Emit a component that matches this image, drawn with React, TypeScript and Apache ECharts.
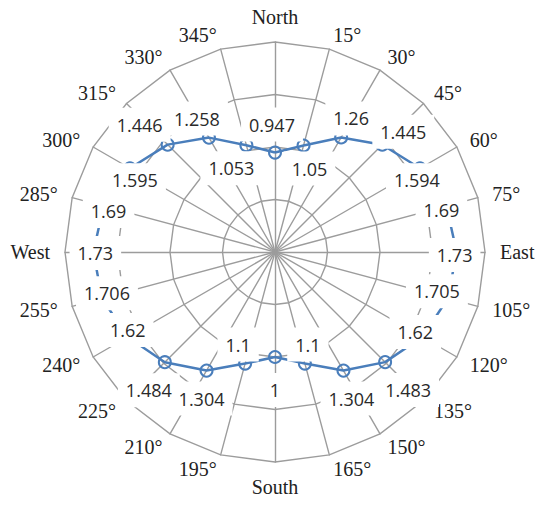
import React, { useEffect, useRef } from 'react';
import * as echarts from 'echarts';

// Category labels, clockwise from North (every 15 degrees)
const DIRECTIONS = [
  'North', '15°', '30°', '45°', '60°', '75°', 'East', '105°', '120°', '135°', '150°', '165°',
  'South', '195°', '210°', '225°', '240°', '255°', 'West', '285°', '300°', '315°', '330°', '345°',
];
const ANGLES = [0, 15, 30, 45, 60, 75, 90, 105, 120, 135, 150, 165, 180, 195, 210, 225, 240, 255, 270, 285, 300, 315, 330, 345];
const VALUES = [
  0.947, 1.05, 1.26, 1.445, 1.594, 1.69, 1.73, 1.705, 1.62, 1.483, 1.304, 1.1,
  1, 1.1, 1.304, 1.484, 1.62, 1.706, 1.73, 1.69, 1.595, 1.446, 1.258, 1.053,
];
const RADIUS_MIN = 0;
const RADIUS_MAX = 2;
const RING_COUNT = 4;

// label placement (style), relative to each point
const LABEL_OFFSETS: [number, number][] = [
  [-3, -28], [6, 23], [10, -19], [21, -13], [-3, 12], [-5, 4], [-2, 3], [-11, -7],
  [-7, -5], [23, 28], [8, 28], [3, -19], [0, 33], [-7, -19], [-5, 28], [-16, 28],
  [0, -7], [5, -5], [2, 1], [5, 5], [5, 12], [-28, -20], [-12, -19], [-15, 23],
];

const BLUE = '#4a7ebb';
const GRID = '#9c9c9c';
const CENTER: [number, number] = [275, 252];
const RADIUS = 210;

export default function App() {
  const ref = useRef<HTMLDivElement>(null);
  useEffect(() => {
    if (!ref.current) return;
    const chart = echarts.init(ref.current, undefined, { renderer: 'svg' });
    // ECharts radar runs counter-clockwise, so list indicators in reverse to get a clockwise layout
    const order = [0, ...Array.from({ length: DIRECTIONS.length - 1 }, (_, k) => DIRECTIONS.length - 1 - k)];
    const indicators = order.map((i) => ({ name: DIRECTIONS[i], min: RADIUS_MIN, max: RADIUS_MAX }));

    const lineData: any[] = VALUES.map((v, i) => [v, ANGLES[i]]);
    lineData.push({ value: [VALUES[0], 360], symbol: 'none' });

    const labelData = VALUES.map((v, i) => ({
      value: [v, ANGLES[i]],
      label: { offset: LABEL_OFFSETS[i] },
    }));

    chart.setOption({
      animation: false,
      backgroundColor: '#ffffff',
      radar: {
        z: 1,
        center: CENTER,
        radius: RADIUS,
        startAngle: 90,
        shape: 'polygon',
        splitNumber: RING_COUNT,
        axisNameGap: 15,
        indicator: indicators,
        axisName: {
          color: '#222',
          fontFamily: 'Liberation Serif',
          fontSize: 20,
        },
        splitLine: { lineStyle: { color: GRID, width: 1.4 } },
        axisLine: { lineStyle: { color: GRID, width: 1.4 } },
        splitArea: { show: false },
        axisTick: { show: false },
        axisLabel: { show: false },
      },
      polar: { center: CENTER, radius: RADIUS },
      angleAxis: {
        type: 'value',
        min: 0,
        max: 360,
        startAngle: 90,
        clockwise: true,
        show: false,
        axisLine: { show: false },
        axisTick: { show: false },
        axisLabel: { show: false },
        splitLine: { show: false },
      },
      radiusAxis: {
        type: 'value',
        min: RADIUS_MIN,
        max: RADIUS_MAX,
        show: false,
        axisLine: { show: false },
        axisTick: { show: false },
        axisLabel: { show: false },
        splitLine: { show: false },
      },
      series: [
        {
          type: 'line',
          coordinateSystem: 'polar',
          z: 5,
          silent: true,
          clip: false,
          data: lineData,
          symbol: 'circle',
          symbolSize: 12,
          itemStyle: { color: 'rgba(0,0,0,0)', borderColor: BLUE, borderWidth: 2 },
          lineStyle: { color: BLUE, width: 2.5 },
          label: { show: false },
        },
        {
          type: 'scatter',
          coordinateSystem: 'polar',
          z: 10,
          silent: true,
          clip: false,
          data: labelData,
          symbolSize: 0.1,
          itemStyle: { color: 'rgba(0,0,0,0)', opacity: 1 },
          label: {
            show: true,
            position: 'inside',
            formatter: (p: any) => String(p.value[0]),
            color: '#2a2a2a',
            opacity: 1,
            fontFamily: 'Open Sans',
            fontSize: 18,
            backgroundColor: '#ffffff',
            padding: [8, 8],
          },
        },
      ],
    });
    return () => chart.dispose();
  }, []);
  return (
    <div
      ref={ref}
      style={{ position: 'absolute', left: 0, top: 0, width: 550, height: 506 }}
    />
  );
}
